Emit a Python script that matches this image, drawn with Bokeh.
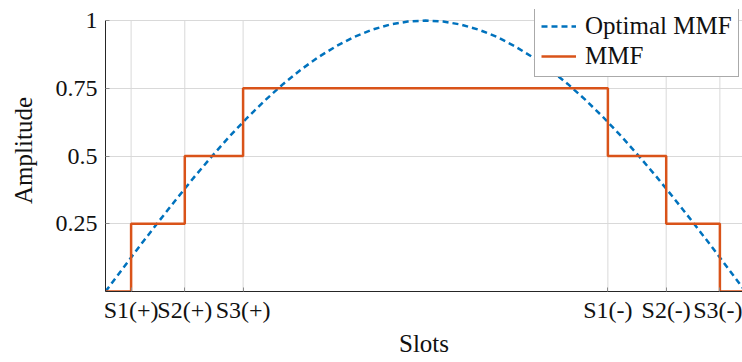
from bokeh.plotting import figure
from bokeh.models import FixedTicker, Legend, LegendItem, Range1d
from bokeh.embed import file_html
from bokeh.resources import INLINE

# ---- data (degrees along the pole pitch) ----
slot_pos = [7.2, 22.3, 38.7, 141.3, 157.7, 172.8]
slot_labels = ["S1(+)", "S2(+)", "S3(+)", "S1(-)", "S2(-)", "S3(-)"]

mmf_x = [0, 7.2, 22.3, 38.7, 141.3, 157.7, 172.8, 180]
mmf_y = [0, 0.25, 0.5, 0.75, 0.5, 0.25, 0, 0]

opt_x = [0, 5, 10, 15, 20, 25, 30, 35, 40, 45, 50, 55, 60, 65, 70, 75, 80, 85, 90,
         95, 100, 105, 110, 115, 120, 125, 130, 135, 140, 145, 150, 155, 160, 165,
         170, 175, 180]
opt_y = [0.0, 0.087, 0.174, 0.259, 0.342, 0.423, 0.5, 0.574, 0.643, 0.707, 0.766,
         0.819, 0.866, 0.906, 0.94, 0.966, 0.985, 0.996, 1.0,
         0.996, 0.985, 0.966, 0.94, 0.906, 0.866, 0.819, 0.766, 0.707, 0.643,
         0.574, 0.5, 0.423, 0.342, 0.259, 0.174, 0.087, 0.0]

y_ticks = [0.25, 0.5, 0.75, 1]
y_tick_labels = ["0.25", "0.5", "0.75", "1"]
y_min, y_max = 0, 1

FONT = "Liberation Serif"
TICK_FS = "24px"
LABEL_FS = "25px"
GRID = "#d9d9d9"

# frame reaches a little above y=1 so the legend can sit there (as in the original)
p = figure(width=742, height=362, output_backend="svg", toolbar_location=None,
           x_range=Range1d(0, 179.16), y_range=Range1d(y_min, y_max + 11 / 271),
           min_border_left=105, min_border_right=0, min_border_top=9,
           min_border_bottom=71)
p.outline_line_color = None
p.background_fill_color = "white"

# vertical grid lines at the slots, stopping at y = 1
p.xgrid.visible = False
p.segment(x0=slot_pos, y0=[y_min] * len(slot_pos), x1=slot_pos,
          y1=[y_max] * len(slot_pos), line_color=GRID, line_width=1)
p.ygrid.grid_line_color = GRID
p.ygrid.grid_line_width = 1

blue = p.line(opt_x, opt_y, line_color="#0072BD", line_width=2.5, line_dash="6 4")
orange = p.step(mmf_x, mmf_y, mode="after", line_color="#D95319", line_width=2.5)

# axes
p.xaxis.ticker = FixedTicker(ticks=slot_pos)
p.xaxis.major_label_overrides = {k: v for k, v in zip(slot_pos, slot_labels)}
p.yaxis.ticker = FixedTicker(ticks=y_ticks)
p.yaxis.major_label_overrides = {k: v for k, v in zip(y_ticks, y_tick_labels)}
p.yaxis.bounds = (y_min, y_max)

for ax in (p.xaxis[0], p.yaxis[0]):
    ax.axis_line_color = "#262626"
    ax.axis_line_width = 1
    ax.major_tick_in = 4
    ax.major_tick_out = 0
    ax.major_tick_line_color = "#8c8c8c"
    ax.minor_tick_line_color = None
    ax.major_label_text_font = FONT
    ax.major_label_text_font_size = TICK_FS
    ax.major_label_text_color = "#111111"
    ax.axis_label_text_font = FONT
    ax.axis_label_text_font_size = LABEL_FS
    ax.axis_label_text_font_style = "normal"
    ax.axis_label_text_color = "#111111"

p.xaxis.axis_label = "Slots"
p.yaxis.axis_label = "Amplitude"
p.xaxis.major_label_standoff = 5
p.xaxis.axis_label_standoff = 4
p.yaxis.major_label_standoff = 8
p.yaxis.axis_label_standoff = 16

legend = Legend(items=[LegendItem(label="Optimal MMF", renderers=[blue]),
                       LegendItem(label="MMF", renderers=[orange])],
                location=(429, 214))
legend.label_text_font = FONT
legend.label_text_font_size = LABEL_FS
legend.label_text_color = "#111111"
legend.glyph_width = 35
legend.label_standoff = 9
legend.padding = 6
legend.spacing = 2
legend.margin = 0
legend.border_line_color = "#555555"
legend.border_line_width = 1
legend.background_fill_alpha = 1
p.add_layout(legend)

open("out.html", "w").write(file_html(p, INLINE))
